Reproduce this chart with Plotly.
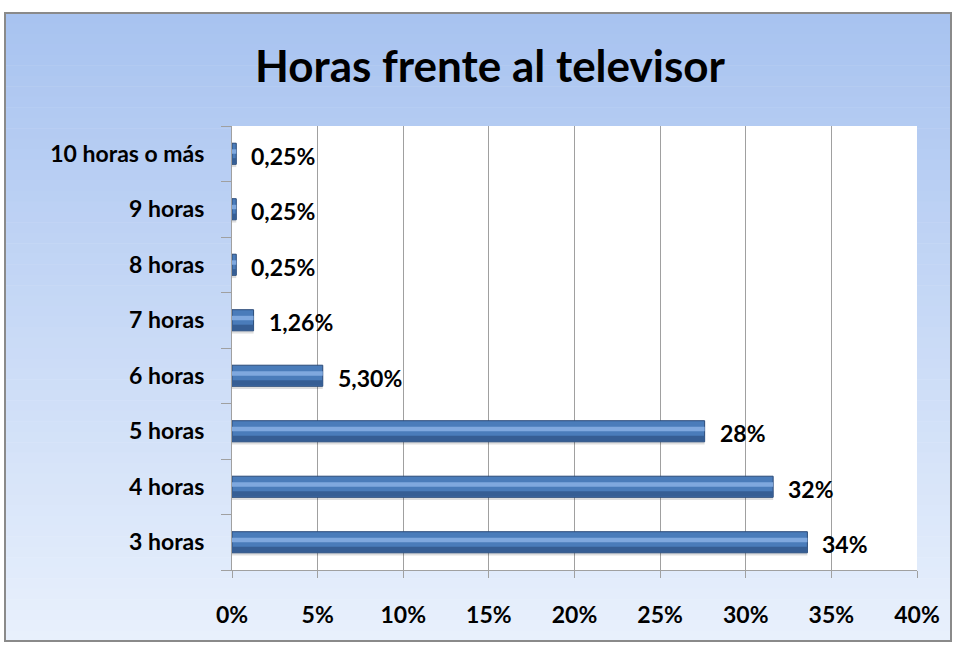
import plotly.graph_objects as go

categories = ["3 horas", "4 horas", "5 horas", "6 horas", "7 horas", "8 horas", "9 horas", "10 horas o más"]
values = [33.6, 31.6, 27.6, 5.30, 1.26, 0.25, 0.25, 0.25]
labels = ["34%", "32%", "28%", "5,30%", "1,26%", "0,25%", "0,25%", "0,25%"]
x_ticks = [0, 5, 10, 15, 20, 25, 30, 35, 40]
x_tick_labels = ["0%", "5%", "10%", "15%", "20%", "25%", "30%", "35%", "40%"]
title_text = "Horas frente al televisor"

W, H = 956, 647
L, R, T, B = 232, 917, 126, 570
FONT = "Lato"
FS = 23

fig = go.Figure()

# shadow
fig.add_trace(go.Bar(y=categories, x=values, orientation="h", width=0.38, offset=-0.24,
                     marker=dict(color="rgba(0,0,0,0.13)", line=dict(width=0)),
                     hoverinfo="skip", showlegend=False))
# main bar
fig.add_trace(go.Bar(y=categories, x=values, orientation="h", width=0.38, offset=-0.19,
                     marker=dict(color="#4A7CBA", line=dict(color="#2A4A78", width=1)),
                     hoverinfo="skip", showlegend=False))
# dark lower band
fig.add_trace(go.Bar(y=categories, x=values, orientation="h", width=0.1, offset=-0.18,
                     marker=dict(color="#365E94", line=dict(width=0)),
                     hoverinfo="skip", showlegend=False))
# highlight band
fig.add_trace(go.Bar(y=categories, x=values, orientation="h", width=0.08, offset=0.0,
                     marker=dict(color="#7FA8DE", line=dict(width=0)),
                     hoverinfo="skip", showlegend=False))

for v, c, t in zip(values, categories, labels):
    fig.add_annotation(x=v, y=c, text="<b>" + t + "</b>", showarrow=False, xanchor="left", yanchor="middle",
                       xshift=13, yshift=-2, font=dict(family=FONT, size=FS, color="#000000"))

# background gradient in paper coords
def px2x(px):
    return (px - L) / (R - L)

def py2y(py):
    return (B - py) / (B - T)

shapes = []
x0b, x1b, y0b, y1b = 5, 951, 13, 641
n = 60
top = (168, 195, 240)
bot = (232, 240, 252)
for i in range(n):
    f = i / (n - 1)
    col = tuple(int(round(top[k] + (bot[k] - top[k]) * f)) for k in range(3))
    ya = y0b + (y1b - y0b) * i / n
    yb = y0b + (y1b - y0b) * (i + 1) / n + 0.5
    shapes.append(dict(type="rect", xref="paper", yref="paper", layer="below",
                       x0=px2x(x0b), x1=px2x(x1b), y0=py2y(min(yb, y1b)), y1=py2y(ya),
                       line=dict(width=0), fillcolor="rgb(%d,%d,%d)" % col))
# outer border
shapes.append(dict(type="rect", xref="paper", yref="paper", layer="below",
                   x0=px2x(x0b), x1=px2x(x1b), y0=py2y(y1b), y1=py2y(y0b),
                   line=dict(color="#8A8A8A", width=2), fillcolor="rgba(0,0,0,0)"))
# plot area
shapes.append(dict(type="rect", xref="paper", yref="paper", layer="below",
                   x0=0, x1=1, y0=0, y1=1, line=dict(width=0), fillcolor="#FFFFFF"))

fig.update_layout(
    width=W, height=H,
    margin=dict(l=L, r=W - R, t=T, b=H - B),
    paper_bgcolor="#FFFFFF", plot_bgcolor="#FFFFFF",
    barmode="overlay",
    shapes=shapes,
    title=dict(text="<b>" + title_text + "</b>", x=490 / W,
               xanchor="center", y=1 - 67 / H, yanchor="middle",
               font=dict(family=FONT, size=44, color="#000000")),
    font=dict(family=FONT),
    xaxis=dict(range=[0, 40], tickvals=x_ticks, ticktext=["<b>%s</b>" % s for s in x_tick_labels],
               showgrid=True, gridcolor="#A0A0A0", gridwidth=1,
               showline=True, linecolor="#A0A0A0", linewidth=1,
               ticks="outside", ticklen=7, tickcolor="#A0A0A0",
               ticklabelstandoff=17, zeroline=False,
               tickfont=dict(family=FONT, size=FS, color="#000000"), fixedrange=True),
    yaxis=dict(categoryorder="array", categoryarray=categories,
               ticktext=["<b>%s</b>" % c for c in categories], tickvals=categories,
               showline=True, linecolor="#A0A0A0", linewidth=1,
               ticks="outside", ticklen=10, tickcolor="#A0A0A0", tickson="boundaries",
               ticklabelstandoff=22, showgrid=False,
               tickfont=dict(family=FONT, size=FS, color="#000000"), fixedrange=True),
)

fig.write_html("out.html", config={"displayModeBar": False},
               post_script="document.body.style.margin='0';")
